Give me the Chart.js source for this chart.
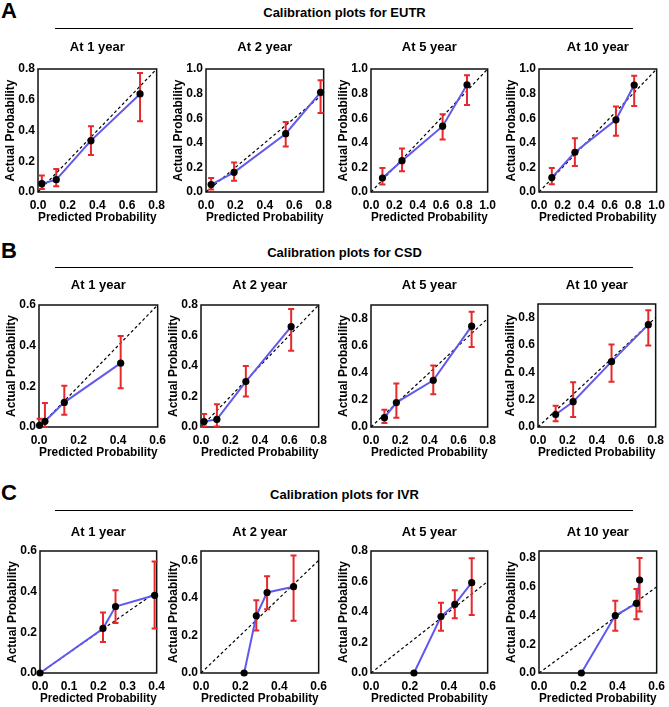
<!DOCTYPE html>
<html><head><meta charset="utf-8">
<script src="https://cdn.jsdelivr.net/npm/chart.js@4.4.1/dist/chart.umd.min.js"></script>
<style>
html,body{margin:0;padding:0;width:669px;height:707px;overflow:hidden;background:#fff;}
body{position:relative;font-family:'Liberation Sans',Arial,sans-serif;color:#000;}
.letter{position:absolute;font-weight:bold;font-size:22px;line-height:22px;}
.hdr{position:absolute;left:0;width:689px;text-align:center;font-weight:bold;font-size:13px;line-height:16px;}
.rule{position:absolute;left:55px;width:578px;height:1px;background:#000;}
canvas{position:absolute;}
</style></head><body>
<script>
// ---------- text ----------
const GROUP_LETTERS = ['A','B','C'];
const GROUP_TITLES = ['Calibration plots for EUTR','Calibration plots for CSD','Calibration plots for IVR'];
const TIME_TITLES = ['At 1 year','At 2 year','At 5 year','At 10 year'];
const X_TITLE = 'Predicted Probability';
const Y_TITLE = 'Actual Probability';

// ---------- data (rows: 1, 2, 5, 10 year) ----------
const EUTR_PRED = [[0.026,0.123,0.357,0.688],[0.035,0.191,0.542,0.779],[0.098,0.266,0.614,0.823],[0.109,0.305,0.654,0.809]];
const EUTR_OBS  = [[0.054,0.080,0.334,0.638],[0.060,0.160,0.474,0.810],[0.114,0.255,0.535,0.872],[0.117,0.323,0.587,0.870]];
const EUTR_LO   = [[0.020,0.037,0.240,0.460],[0.020,0.092,0.370,0.642],[0.060,0.168,0.427,0.707],[0.063,0.212,0.457,0.700]];
const EUTR_HI   = [[0.108,0.150,0.427,0.774],[0.114,0.240,0.570,0.908],[0.196,0.353,0.633,0.950],[0.196,0.437,0.696,0.946]];

const CSD_PRED = [[0.003,0.030,0.128,0.413],[0.021,0.108,0.305,0.613],[0.092,0.174,0.427,0.690],[0.120,0.239,0.500,0.750]];
const CSD_OBS  = [[0.008,0.028,0.121,0.314],[0.036,0.050,0.298,0.658],[0.069,0.180,0.345,0.744],[0.091,0.185,0.478,0.749]];
const CSD_LO   = [[0.000,0.000,0.060,0.191],[0.004,0.004,0.200,0.500],[0.030,0.069,0.241,0.590],[0.042,0.074,0.332,0.596]];
const CSD_HI   = [[0.040,0.118,0.203,0.448],[0.085,0.150,0.400,0.773],[0.128,0.320,0.453,0.850],[0.155,0.327,0.603,0.855]];

const IVR_PRED = [[0.000,0.216,0.259,0.393],[0.220,0.282,0.337,0.472],[0.221,0.360,0.431,0.518],[0.216,0.389,0.497,0.513]];
const IVR_OBS  = [[0.000,0.219,0.327,0.382],[0.000,0.305,0.429,0.460],[0.000,0.370,0.450,0.592],[0.000,0.400,0.485,0.648]];
const IVR_LO   = [[null,0.152,0.246,0.219],[null,0.226,0.339,0.279],[null,0.277,0.359,0.380],[null,0.294,0.375,0.428]];
const IVR_HI   = [[null,0.298,0.407,0.548],[null,0.388,0.515,0.626],[null,0.460,0.543,0.752],[null,0.503,0.586,0.802]];

// ---------- axis ranges / tick steps ----------
const X_MAX  = [[0.8,0.8,1.0,1.0],[0.6,0.8,0.8,0.8],[0.4,0.6,0.6,0.6]];
const X_STEP = [[0.2,0.2,0.2,0.2],[0.2,0.2,0.2,0.2],[0.1,0.2,0.2,0.2]];
const Y_MAX  = [[0.8,1.0,1.0,1.0],[0.6,0.8,0.9,0.9],[0.6,0.65,0.8,0.85]];
const Y_STEP = 0.2;

const PRED = [EUTR_PRED, CSD_PRED, IVR_PRED];
const OBS  = [EUTR_OBS, CSD_OBS, IVR_OBS];
const LO   = [EUTR_LO, CSD_LO, IVR_LO];
const HI   = [EUTR_HI, CSD_HI, IVR_HI];

// ---------- layout (plot boxes in page pixels) ----------
const BOX_LEFT = [[38,206,371,539],[39,201,371,538],[40,201,371,539]];
const BOX_TOP  = [[69,69,69,69],[305,305,305,304],[551,551,551,551]];
const BOX_W    = [[124,123,122,123],[124,123,122,123],[122,123,122,123]];
const BOX_H    = [[123,123,123,123],[122,122,122,123],[122,122,122,122]];
const TITLE_Y  = [48.3, 286.7, 533.3];
const HDR_Y    = [12.7, 252.7, 495];
const RULE_Y   = [28, 267, 510];
const LETTER_TOP = [0, 240, 482];
const YAXIS_W = 35, XAXIS_H = 33, PAD_R = 9;

const BLUE = '#6159ee', RED = '#e8292b';

Chart.defaults.font.family = "'Liberation Sans', Arial, sans-serif";
Chart.defaults.font.size = 12;
Chart.defaults.font.weight = 'bold';
Chart.defaults.color = '#000';

const boxPlugin = {
  id: 'boxFrame',
  beforeDatasetsDraw(chart) {
    const a = chart.chartArea, ctx = chart.ctx;
    ctx.save();
    ctx.strokeStyle = '#111';
    ctx.lineWidth = 1.5;
    ctx.strokeRect(a.left, a.top, a.right - a.left, a.bottom - a.top);
    ctx.restore();
  }
};
const errPlugin = {
  id: 'errorBars',
  afterDatasetDraw(chart, args) {
    if (args.index !== 1) return;
    const ds = chart.data.datasets[1];
    const xs = chart.scales.x, ys = chart.scales.y, ctx = chart.ctx;
    ctx.save();
    ctx.strokeStyle = RED;
    ctx.lineWidth = 2;
    ds.data.forEach((p, i) => {
      if (ds.errLo[i] == null) return;
      const X = xs.getPixelForValue(p.x);
      const y1 = ys.getPixelForValue(ds.errLo[i]);
      const y2 = ys.getPixelForValue(ds.errHi[i]);
      ctx.beginPath();
      ctx.moveTo(X, y1); ctx.lineTo(X, y2);
      ctx.moveTo(X - 3, y1); ctx.lineTo(X + 3, y1);
      ctx.moveTo(X - 3, y2); ctx.lineTo(X + 3, y2);
      ctx.stroke();
    });
    ctx.restore();
  }
};

function addDiv(cls, text, top) {
  const d = document.createElement('div');
  d.className = cls;
  d.textContent = text;
  d.style.top = top + 'px';
  if (cls === 'letter') d.style.left = '1px';
  document.body.appendChild(d);
}

for (let g = 0; g < 3; g++) {
  addDiv('letter', GROUP_LETTERS[g], LETTER_TOP[g]);
  addDiv('hdr', GROUP_TITLES[g], HDR_Y[g] - 8);
  const r = document.createElement('div');
  r.className = 'rule';
  r.style.top = RULE_Y[g] + 'px';
  document.body.appendChild(r);

  for (let k = 0; k < 4; k++) {
    const L = BOX_LEFT[g][k], T = BOX_TOP[g][k], W = BOX_W[g][k], H = BOX_H[g][k];
    const cTop = Math.floor(TITLE_Y[g] - 7.8);
    const titlePad = T - cTop - 15.6;
    const cv = document.createElement('canvas');
    cv.width = YAXIS_W + W + PAD_R;
    cv.height = (T - cTop) + H + XAXIS_H;
    cv.style.left = (L - YAXIS_W) + 'px';
    cv.style.top = cTop + 'px';
    document.body.appendChild(cv);

    const pts = PRED[g][k].map((x, i) => ({x: x, y: OBS[g][k][i]}));
    const d = Math.min(X_MAX[g][k], Y_MAX[g][k]);
    const diag = [{x: 0, y: 0}, {x: d, y: d}];

    new Chart(cv, {
      type: 'scatter',
      data: {
        datasets: [
          {data: pts, showLine: false, pointRadius: 3.6, pointBackgroundColor: '#000', pointBorderWidth: 0, order: 0, clip: false},
          {data: pts, showLine: true, borderColor: BLUE, borderWidth: 2, pointRadius: 0, order: 1, clip: false,
           errLo: LO[g][k], errHi: HI[g][k]},
          {data: diag, showLine: true, borderColor: '#000', borderWidth: 1.2, borderDash: [3, 2.5], pointRadius: 0, order: 2, clip: false}
        ]
      },
      options: {
        responsive: false, animation: false, devicePixelRatio: 1,
        layout: {padding: {left: 0, right: PAD_R, top: 0, bottom: 0}},
        plugins: {
          legend: {display: false}, tooltip: {enabled: false},
          title: {display: true, text: TIME_TITLES[k], fullSize: false,
                  font: {size: 13, weight: 'bold'}, padding: {top: 0, bottom: titlePad}}
        },
        scales: {
          x: {
            type: 'linear', position: 'bottom', min: 0, max: X_MAX[g][k],
            afterFit: s => { s.height = XAXIS_H; },
            grid: {display: false, drawTicks: false}, border: {display: false},
            ticks: {stepSize: X_STEP[g][k], padding: 6, autoSkip: false, maxRotation: 0, includeBounds: false,
                    font: {size: 12, weight: 'bold'}, callback: v => Number(v).toFixed(1)},
            title: {display: true, text: X_TITLE, font: {size: 12, weight: 'bold'}, padding: 0}
          },
          y: {
            type: 'linear', position: 'left', min: 0, max: Y_MAX[g][k],
            afterFit: s => { s.width = YAXIS_W; },
            grid: {display: false, drawTicks: false}, border: {display: false},
            ticks: {stepSize: Y_STEP, padding: 3, autoSkip: false, includeBounds: false,
                    font: {size: 12, weight: 'bold'}, callback: v => Number(v).toFixed(1)},
            title: {display: true, text: Y_TITLE, font: {size: 12, weight: 'bold'}, padding: 0}
          }
        }
      },
      plugins: [boxPlugin, errPlugin]
    });
  }
}
</script>
</body></html>
